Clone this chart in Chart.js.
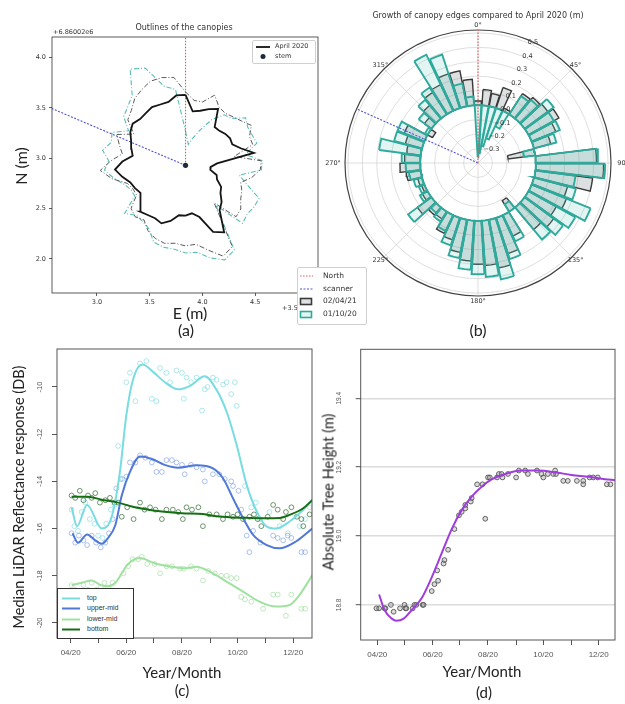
<!DOCTYPE html>
<html>
<head>
<meta charset="utf-8">
<script src="https://cdn.jsdelivr.net/npm/chart.js@4.4.1/dist/chart.umd.min.js"></script>
<style>
  body { margin: 0; background: #fff; }
  #fig { position: relative; width: 625px; height: 704px; overflow: hidden; background: #fff; }
  canvas { position: absolute; }
  .lbl { position: absolute; font-family: Lato, "Open Sans", sans-serif; color: #222; white-space: nowrap; transform: translate(-50%, -50%); }
  .rot { transform: translate(-50%, -50%) rotate(-90deg); }
  .mpl { position: absolute; font-family: "DejaVu Sans", sans-serif; color: #333; white-space: nowrap; }
  .rtxt { position: absolute; font-family: "Liberation Sans", sans-serif; color: #333; white-space: nowrap; font-size: 7px; }
  .box { position: absolute; background: #fff; }
  svg { position: absolute; overflow: visible; }
</style>
</head>
<body>
<div id="fig">
  <canvas id="canopy" width="322" height="320" style="left:0;top:0"></canvas>
  <canvas id="rose" width="335" height="330" style="left:290px;top:0"></canvas>
  <canvas id="reflect" width="322" height="340" style="left:0;top:340px"></canvas>
  <canvas id="height" width="303" height="340" style="left:322px;top:340px"></canvas>

  <!-- panel (a) text -->
  <div class="mpl" style="left:184px;top:27px;font-size:8px;transform:translate(-50%,-50%)">Outlines of the canopies</div>
  <div class="mpl" style="left:53px;top:28px;font-size:6.5px">+6.86002e6</div>
  <div class="mpl" style="left:282px;top:304px;font-size:6.5px">+3.5</div>
  <div class="lbl rot" style="left:20px;top:166px;font-size:16px">N (m)</div>
  <div class="lbl" style="left:190px;top:312px;font-size:16px">E (m)</div>
  <div class="lbl" style="left:186px;top:329px;font-size:16px">(a)</div>
  <div class="box" style="left:252px;top:40px;width:62px;height:22px;border:1px solid #d0d0d0;border-radius:2px">
    <svg width="62" height="22" style="left:0;top:0">
      <line x1="3" y1="6" x2="17" y2="6" stroke="#111" stroke-width="1.8"/>
      <circle cx="10" cy="15.5" r="2.5" fill="#1b2b3b"/>
    </svg>
    <div class="mpl" style="left:22px;top:1px;font-size:6.5px">April 2020</div>
    <div class="mpl" style="left:22px;top:11px;font-size:6.5px">stem</div>
  </div>

  <!-- panel (b) text -->
  <div class="mpl" style="left:478px;top:15px;font-size:8px;transform:translate(-50%,-50%)">Growth of canopy edges compared to April 2020 (m)</div>
  <div class="lbl" style="left:478px;top:329px;font-size:16px">(b)</div>
  <div class="box" style="left:297px;top:267px;width:68px;height:56px;border:1px solid #d0d0d0;border-radius:2px">
    <svg width="68" height="56" style="left:0;top:0">
      <line x1="2" y1="8" x2="15" y2="8" stroke="#e05a5a" stroke-width="1.2" stroke-dasharray="1.5 1.5"/>
      <line x1="2" y1="21" x2="15" y2="21" stroke="#5050d8" stroke-width="1.2" stroke-dasharray="2 1.5"/>
      <rect x="2.5" y="30.5" width="11" height="6" fill="#dde3e3" stroke="#3a3a3a" stroke-width="1.6"/>
      <rect x="2.5" y="43.5" width="11" height="6" fill="#e3f5f3" stroke="#2eaa9c" stroke-width="1.6"/>
    </svg>
    <div class="mpl" style="left:25px;top:3px;font-size:7.5px">North</div>
    <div class="mpl" style="left:25px;top:16px;font-size:7.5px">scanner</div>
    <div class="mpl" style="left:25px;top:28px;font-size:7.5px">02/04/21</div>
    <div class="mpl" style="left:25px;top:41px;font-size:7.5px">01/10/20</div>
  </div>

  <!-- panel (c) text -->
  <div class="lbl rot" style="left:18px;top:497px;font-size:14.5px">Median LiDAR Reflectance response (DB)</div>
  <div class="lbl" style="left:182px;top:672px;font-size:15px">Year/Month</div>
  <div class="lbl" style="left:182px;top:690px;font-size:15px">(c)</div>
  <div class="box" style="left:57px;top:588px;width:75px;height:49px;border:1px solid #333">
    <svg width="75" height="49" style="left:0;top:0">
      <line x1="4" y1="9.5" x2="22" y2="9.5" stroke="#78dce1" stroke-width="2"/>
      <line x1="4" y1="19.5" x2="22" y2="19.5" stroke="#5078d7" stroke-width="2"/>
      <line x1="4" y1="30.5" x2="22" y2="30.5" stroke="#a0e1a0" stroke-width="2"/>
      <line x1="4" y1="40.5" x2="22" y2="40.5" stroke="#146e14" stroke-width="2"/>
    </svg>
    <div class="rtxt" style="left:29px;top:5px">top</div>
    <div class="rtxt" style="left:29px;top:15px">upper-mid</div>
    <div class="rtxt" style="left:29px;top:26px">lower-mid</div>
    <div class="rtxt" style="left:29px;top:36px">bottom</div>
  </div>

  <!-- panel (d) text -->
  <div class="lbl rot" style="left:328px;top:492px;font-size:14.5px">Absolute Tree Height (m)</div>
  <div class="lbl" style="left:482px;top:671px;font-size:15px">Year/Month</div>
  <div class="lbl" style="left:484px;top:692px;font-size:15px">(d)</div>
</div>

<script>
// ---- canopy outlines / edge growth, 50 bearing bins (7.2 deg apart, clockwise from north)
const binStep = 7.2;
const aprilRadius = [0.70, 0.54, 0.56, 0.60, 0.64, 0.47, 0.47, 0.49, 0.50, 0.49,
                     0.55, 0.66, 0.30, 0.24, 0.24, 0.31, 0.33, 0.40, 0.43, 0.50,
                     0.55, 0.76, 0.71, 0.53, 0.48, 0.50, 0.50, 0.57, 0.62, 0.60,
                     0.61, 0.63, 0.55, 0.51, 0.53, 0.55, 0.61, 0.67, 0.60, 0.51,
                     0.54, 0.57, 0.62, 0.65, 0.63, 0.64, 0.66, 0.65, 0.65, 0.70];
const growthOct20 = [-0.36, -0.33, -0.28, -0.22, -0.12, 0.15, 0.17, 0.25, 0.20, 0.21,
                      0.16, -0.08, 0.43, 0.48, 0.28, 0.30, 0.44, 0.37, 0.33, 0.29,
                     -0.06, 0.20, 0.30, 0.42, 0.39, 0.37, 0.34, 0.27, 0.20, 0.12,
                      0.08, 0.05, 0.20, 0.06, 0.04, 0.06, 0.08, 0.10, 0.13, 0.29,
                      0.20, 0.20, 0.02, 0.11, 0.17, 0.22, 0.43, 0.39, 0.16, 0.06];
const growthApr21 = [0.03, 0.11, 0.09, 0.15, 0.02, 0.17, 0.19, 0.20, 0.24, 0.18,
                     0.12, -0.19, 0.42, 0.47, 0.40, 0.24, 0.26, 0.22, 0.25, 0.20,
                    -0.09, 0.16, 0.26, 0.34, 0.31, 0.30, 0.28, 0.23, 0.16, 0.14,
                     0.06, 0.07, 0.12, 0.04, 0.02, 0.03, 0.10, 0.14, 0.11, 0.10,
                     0.12, 0.15, -0.04, 0.06, 0.12, 0.18, 0.20, 0.25, 0.25, 0.18];
const stemE = 3.84, stemN = 2.93;
const scannerBearing = 294;
const eastTicks = [3.0, 3.5, 4.0, 4.5, 5.0];
const northTicks = [2.0, 2.5, 3.0, 3.5, 4.0];
const rMin = -0.4, rMax = 0.52;
const ringValues = [-0.3, -0.2, -0.1, 0.0, 0.1, 0.2, 0.3, 0.4, 0.5];
const compassLabels = ['0°', '45°', '90°', '135°', '180°', '225°', '270°', '315°'];

// ---- reflectance per layer (day of year 2020)
const monthTicks = [92, 122, 153, 183, 214, 245, 275, 306, 336];
const monthLabels = {92: '04/20', 153: '06/20', 214: '08/20', 275: '10/20', 336: '12/20'};
const dbTicks = [-20, -18, -16, -14, -12, -10];

const topPts = [[93,-15.2],[96,-15.9],[100,-16.1],[104,-15.3],[108,-14.9],[113,-15.6],[118,-15.8],[122,-16.3],[127,-16.4],[131,-15.8],
  [136,-15.2],[140,-15.0],[144,-12.5],[149,-13.9],[153,-9.8],[157,-9.4],[163,-10.6],[168,-9.0],[175,-8.9],[181,-10.5],
  [186,-10.6],[190,-9.2],[197,-9.4],[201,-9.8],[208,-9.3],[214,-9.4],[216,-10.5],[219,-9.6],[224,-9.8],[230,-9.6],
  [236,-11.0],[239,-10.1],[242,-10.0],[248,-9.6],[252,-9.7],[259,-9.9],[263,-9.8],[268,-10.3],[272,-9.8],[274,-10.8],
  [283,-14.2],[290,-15.1],[295,-14.9],[299,-15.6],[310,-15.3],[321,-15.9],[330,-16.2],[343,-15.9],[349,-15.6],[354,-15.1]];
const topFit = [[93,-15.1],[99,-15.9],[110,-15.0],[126,-16.0],[137,-15.5],[146,-13.6],[153,-11.2],[161,-9.6],[171,-9.05],[182,-9.35],
  [197,-9.85],[210,-10.1],[223,-9.95],[239,-9.55],[251,-10.06],[263,-11.05],[274,-12.46],[285,-14.15],[296,-15.28],[307,-15.92],
  [317,-16.0],[332,-15.7],[347,-15.2],[357,-14.8]];

const upperPts = [[93,-16.2],[97,-16.6],[101,-16.3],[106,-16.5],[110,-16.7],[115,-16.3],[120,-16.6],[125,-16.8],[130,-16.6],[134,-16.2],
  [138,-15.6],[142,-14.3],[147,-13.9],[153,-13.8],[157,-13.2],[163,-13.2],[168,-12.9],[174,-13.0],[181,-13.2],[186,-13.6],
  [192,-13.6],[197,-13.1],[203,-13.1],[208,-13.2],[214,-13.3],[217,-13.7],[224,-13.3],[230,-13.4],[237,-13.5],[239,-14.0],
  [248,-13.7],[255,-13.7],[261,-13.9],[268,-14.0],[270,-14.2],[276,-14.4],[279,-15.2],[285,-16.3],[288,-17.0],[292,-16.1],
  [300,-16.6],[314,-16.3],[319,-16.4],[325,-16.5],[330,-16.3],[334,-16.4],[345,-17.0],[349,-17.0]];
const upperFit = [[94,-16.2],[100,-16.6],[110,-16.25],[119,-16.5],[126,-16.65],[133,-16.4],[141,-15.85],[148,-14.6],[157,-13.6],[168,-12.95],
  [181,-13.05],[195,-13.3],[210,-13.42],[230,-13.32],[248,-13.45],[259,-13.87],[270,-14.72],[281,-15.56],[292,-16.27],[307,-16.7],
  [321,-16.84],[339,-16.55],[357,-16.0]];

const lowerPts = [[93,-18.4],[97,-18.6],[101,-18.9],[106,-18.4],[111,-18.6],[115,-18.3],[120,-18.6],[125,-18.5],[129,-18.3],[133,-18.5],
  [138,-18.3],[150,-17.9],[155,-17.6],[160,-17.3],[166,-17.3],[170,-17.2],[176,-17.5],[184,-17.5],[190,-17.9],[197,-17.6],
  [203,-17.6],[212,-17.7],[216,-17.7],[224,-17.6],[230,-17.7],[237,-18.2],[243,-17.8],[250,-17.9],[257,-18.0],[263,-18.0],
  [268,-18.1],[274,-18.1],[279,-18.9],[283,-19.0],[290,-19.1],[303,-19.4],[314,-18.8],[319,-18.8],[328,-19.7],[334,-18.8],
  [345,-19.4],[349,-19.4]];
const lowerFit = [[93,-18.4],[104,-18.3],[115,-18.2],[125,-18.4],[133,-18.45],[141,-18.3],[155,-17.5],[168,-17.25],[184,-17.47],[203,-17.62],
  [217,-17.68],[230,-17.62],[244,-17.82],[263,-18.25],[281,-18.67],[299,-19.1],[317,-19.31],[332,-19.24],[343,-18.81],[357,-17.97]];

const bottomPts = [[93,-14.6],[97,-14.7],[102,-14.4],[106,-14.8],[111,-14.6],[115,-14.7],[119,-14.5],[124,-14.9],[130,-14.8],[135,-14.7],
  [140,-14.9],[144,-14.9],[148,-15.5],[154,-15.1],[161,-15.6],[168,-14.9],[173,-15.2],[179,-15.1],[185,-15.2],[192,-15.6],
  [197,-15.2],[204,-15.2],[210,-15.3],[215,-15.6],[219,-15.1],[225,-15.2],[232,-15.1],[237,-15.9],[244,-15.4],[252,-15.4],
  [259,-15.6],[264,-15.4],[270,-15.5],[275,-15.4],[281,-15.6],[288,-15.5],[293,-15.4],[297,-15.6],[301,-15.9],[308,-15.5],
  [314,-15.0],[319,-15.2],[325,-15.6],[328,-15.3],[334,-15.1],[340,-15.5],[345,-15.6],[347,-15.9],[354,-15.4]];
const bottomFit = [[93,-14.65],[111,-14.65],[126,-14.78],[142,-14.88],[159,-15.07],[177,-15.2],[192,-15.28],[214,-15.35],[237,-15.38],[252,-15.48],
  [270,-15.53],[288,-15.55],[306,-15.56],[321,-15.55],[332,-15.42],[347,-15.14],[357,-14.79]];

// ---- absolute tree height
const heightTicks = [18.8, 19.0, 19.2, 19.4];
const heightPts = [[91,18.79],[94,18.79],[100,18.79],[101,18.79],[107,18.80],[110,18.78],[117,18.79],[122,18.80],[123,18.79],[124,18.79],
  [131,18.79],[133,18.80],[135,18.80],[142,18.80],[143,18.80],[152,18.84],[155,18.86],[158,18.90],[159,18.87],[165,18.92],
  [166,18.93],[170,18.96],[177,19.02],[182,19.06],[185,19.07],[189,19.08],[189,19.09],[195,19.10],[196,19.11],[202,19.15],
  [208,19.15],[211,19.05],[214,19.17],[216,19.17],[224,19.17],[226,19.18],[229,19.18],[230,19.17],[236,19.18],[245,19.17],
  [248,19.19],[255,19.19],[258,19.18],[268,19.19],[273,19.18],[275,19.17],[280,19.18],[286,19.18],[288,19.19],[289,19.18],
  [297,19.16],[302,19.16],[312,19.16],[319,19.16],[319,19.15],[326,19.17],[330,19.17],[335,19.17],[345,19.15],[349,19.15]];
const heightFit = [[94,18.83],[100,18.785],[108,18.76],[113,18.754],[121,18.76],[130,18.785],[141,18.82],[152,18.88],[163,18.95],[174,19.02],
  [185,19.075],[196,19.114],[207,19.143],[218,19.164],[233,19.18],[251,19.19],[269,19.19],[288,19.185],[306,19.177],[325,19.172],
  [343,19.165],[354,19.162]];

// ---------------------------------------------------------------------------
const deg = Math.PI / 180;
const xy = pairs => pairs.map(p => ({x: p[0], y: p[1]}));
const polar = (bearing, r) => ({x: r * Math.sin(bearing * deg), y: r * Math.cos(bearing * deg)});

function outline(radii) {
  const pts = radii.map((r, k) => {
    const p = polar(k * binStep, r);
    return {x: stemE + p.x, y: stemN + p.y};
  });
  pts.push(pts[0]);
  return pts;
}

// one rose bar, from the zero ring out (or in) to the value
function wedge(k, value) {
  const c = k * binStep, h = 3.3;
  const r0 = -rMin, r1 = value - rMin;
  const pts = [c - h, c, c + h].map(b => polar(b, r1))
    .concat([c + h, c, c - h].map(b => polar(b, r0)));
  pts.push(pts[0]);
  return pts;
}

const frame = {
  id: 'frame',
  afterDatasetsDraw(chart, args, opts) {
    const {ctx, chartArea: a} = chart;
    ctx.save();
    ctx.strokeStyle = opts.color;
    ctx.lineWidth = opts.width;
    ctx.strokeRect(a.left, a.top, a.right - a.left, a.bottom - a.top);
    ctx.restore();
  }
};

// R draws the y labels parallel to the axis
const sideLabels = {
  id: 'sideLabels',
  afterDraw(chart, args, opts) {
    const {ctx} = chart, s = chart.scales.y;
    ctx.save();
    ctx.font = opts.size + 'px "Liberation Sans"';
    ctx.fillStyle = '#555';
    ctx.textAlign = 'center';
    ctx.textBaseline = 'middle';
    s.ticks.forEach(t => {
      ctx.save();
      ctx.translate(chart.chartArea.left - opts.gap, s.getPixelForValue(t.value));
      ctx.rotate(-Math.PI / 2);
      ctx.fillText(opts.fmt(t.value), 0, 0);
      ctx.restore();
    });
    ctx.restore();
  }
};

const polarGrid = {
  id: 'polarGrid',
  beforeDatasetsDraw(chart) {
    const {ctx, scales: {x, y}} = chart;
    const cx = x.getPixelForValue(0), cy = y.getPixelForValue(0);
    const rad = r => x.getPixelForValue(r) - cx;
    const rOut = rad(rMax - rMin);
    ctx.save();
    ctx.strokeStyle = '#d6d6d6';
    ctx.lineWidth = 0.8;
    ringValues.forEach(v => {
      ctx.beginPath(); ctx.arc(cx, cy, rad(v - rMin), 0, 2 * Math.PI); ctx.stroke();
    });
    for (let b = 0; b < 360; b += 45) {
      ctx.beginPath();
      ctx.moveTo(cx, cy);
      ctx.lineTo(cx + rOut * Math.sin(b * deg), cy - rOut * Math.cos(b * deg));
      ctx.stroke();
    }
    ctx.strokeStyle = '#444';
    ctx.lineWidth = 1.2;
    ctx.beginPath(); ctx.arc(cx, cy, rOut, 0, 2 * Math.PI); ctx.stroke();
    ctx.fillStyle = '#333';
    ctx.font = '6.5px "DejaVu Sans"';
    ctx.textAlign = 'center';
    ctx.textBaseline = 'middle';
    compassLabels.forEach((t, i) => {
      const rr = rOut + (i % 4 === 2 ? 12 : 5);
      ctx.fillText(t, cx + rr * Math.sin(i * 45 * deg), cy - rr * Math.cos(i * 45 * deg));
    });
    ctx.restore();
  },
  afterDatasetsDraw(chart) {
    const {ctx, scales: {x, y}} = chart;
    const cx = x.getPixelForValue(0), cy = y.getPixelForValue(0);
    ctx.save();
    ctx.fillStyle = '#333';
    ctx.font = '6.5px "DejaVu Sans"';
    ctx.textAlign = 'left';
    ctx.textBaseline = 'middle';
    ringValues.forEach(v => {
      const rr = x.getPixelForValue(v - rMin) - cx;
      const txt = (v < 0 ? '\u2212' : '') + Math.abs(v).toFixed(1);
      ctx.fillText(txt, cx + rr * Math.sin(22.5 * deg), cy - rr * Math.cos(22.5 * deg));
    });
    ctx.restore();
  }
};

const base = {
  responsive: false,
  animation: false,
  events: [],
  plugins: {legend: {display: false}, tooltip: {enabled: false}}
};

// ---- (a) canopy outlines
new Chart(document.getElementById('canopy'), {
  type: 'line',
  data: {
    datasets: [
      {data: outline(aprilRadius), borderColor: '#151515', borderWidth: 1.8, pointRadius: 0, tension: 0, order: 0},
      {data: [{x: stemE, y: stemN}], showLine: false, pointRadius: 2.6, pointBackgroundColor: '#1b2b3b', pointBorderWidth: 0, order: 0},
      {data: [{x: stemE, y: stemN}, {x: stemE, y: 4.6}], borderColor: '#e05a5a', borderWidth: 1.1, borderDash: [1.5, 1.5], pointRadius: 0, order: 1},
      {data: [{x: stemE, y: stemN}, {x: stemE + polar(scannerBearing, 2).x, y: stemN + polar(scannerBearing, 2).y}],
        borderColor: '#5050d8', borderWidth: 1.1, borderDash: [2, 1.5], pointRadius: 0, order: 1},
      {data: outline(aprilRadius.map((r, k) => r + growthApr21[k])), borderColor: '#5a5a5a', borderWidth: 1,
        borderDash: [5, 2, 1, 2], pointRadius: 0, tension: 0, order: 2},
      {data: outline(aprilRadius.map((r, k) => r + growthOct20[k])), borderColor: '#5cbdb6', borderWidth: 1.1,
        borderDash: [5, 2, 1, 2], pointRadius: 0, tension: 0, order: 3}
    ]
  },
  options: {
    ...base,
    layout: {padding: {left: 22, top: 37, right: 4, bottom: 0}},
    scales: {
      x: {
        type: 'linear', min: 2.574, max: 5.096,
        afterBuildTicks: s => { s.ticks = eastTicks.map(v => ({value: v})); },
        afterFit: s => { s.height = 27; },
        ticks: {font: {family: 'DejaVu Sans', size: 6.5}, color: '#333', padding: 2, autoSkip: false, maxRotation: 0,
          callback: v => v.toFixed(1)},
        grid: {drawOnChartArea: false, tickLength: 3, tickColor: '#333', tickWidth: 0.8},
        border: {display: false}
      },
      y: {
        type: 'linear', min: 1.662, max: 4.205,
        afterBuildTicks: s => { s.ticks = northTicks.map(v => ({value: v})); },
        afterFit: s => { s.width = 30; },
        ticks: {font: {family: 'DejaVu Sans', size: 6.5}, color: '#333', padding: 3, callback: v => v.toFixed(1)},
        grid: {drawOnChartArea: false, tickLength: 3, tickColor: '#333', tickWidth: 0.8},
        border: {display: false}
      }
    },
    plugins: {...base.plugins, frame: {color: '#333', width: 0.8}}
  },
  plugins: [frame]
});

// ---- (b) growth rose
const roseSets = [];
growthOct20.forEach((v, k) => roseSets.push({
  data: wedge(k, v), fill: 'shape', backgroundColor: 'rgba(110,205,195,0.2)', borderColor: '#2eaa9c',
  borderWidth: 1.9, pointRadius: 0, tension: 0, order: 1
}));
growthApr21.forEach((v, k) => roseSets.push({
  data: wedge(k, v), fill: 'shape', backgroundColor: 'rgba(120,135,135,0.26)', borderColor: '#3a3a3a',
  borderWidth: 1.4, pointRadius: 0, tension: 0, order: 2
}));
roseSets.push({data: [polar(0, 0), polar(0, rMax - rMin)], borderColor: '#e05a5a', borderWidth: 1.1,
  borderDash: [1.5, 1.5], pointRadius: 0, order: 0});
roseSets.push({data: [polar(scannerBearing, 0), polar(scannerBearing, rMax - rMin)], borderColor: '#5050d8', borderWidth: 1.1,
  borderDash: [2, 1.5], pointRadius: 0, order: 0});

new Chart(document.getElementById('rose'), {
  type: 'line',
  data: {datasets: roseSets},
  options: {
    ...base,
    layout: {padding: {left: 55, top: 30, right: 14, bottom: 34}},
    scales: {
      x: {type: 'linear', min: -(rMax - rMin), max: rMax - rMin, display: false},
      y: {type: 'linear', min: -(rMax - rMin), max: rMax - rMin, display: false}
    }
  },
  plugins: [polarGrid]
});

// ---- shared month axis for (c) and (d)
function monthAxis(min, max) {
  return {
    type: 'linear', min, max,
    afterBuildTicks: s => { s.ticks = monthTicks.map(v => ({value: v})); },
    afterFit: s => { s.height = 30; },
    ticks: {font: {family: 'Liberation Sans', size: 8}, color: '#555', padding: 5, autoSkip: false, maxRotation: 0,
      callback: v => monthLabels[v] || ''},
    grid: {drawOnChartArea: false, tickLength: 5, tickColor: '#555', tickWidth: 1},
    border: {display: false}
  };
}

const pointSet = (pairs, color, order) => ({data: xy(pairs), showLine: false, pointRadius: 2.4, pointBorderWidth: 0.9,
  pointBorderColor: color, pointBackgroundColor: 'rgba(0,0,0,0)', order});
const fitSet = (pairs, color, order) => ({data: xy(pairs), borderColor: color, borderWidth: 2, pointRadius: 0,
  cubicInterpolationMode: 'monotone', order});

// ---- (c) reflectance
new Chart(document.getElementById('reflect'), {
  type: 'line',
  data: {
    datasets: [
      fitSet(bottomFit, '#146e14', 0),
      fitSet(lowerFit, '#a0e1a0', 1),
      fitSet(upperFit, '#5078d7', 2),
      fitSet(topFit, '#78dce1', 3),
      pointSet(bottomPts, 'rgba(40,100,40,0.75)', 4),
      pointSet(lowerPts, 'rgba(150,215,150,0.65)', 5),
      pointSet(upperPts, 'rgba(90,130,220,0.55)', 6),
      pointSet(topPts, 'rgba(120,215,222,0.65)', 7)
    ]
  },
  options: {
    ...base,
    layout: {padding: {left: 37, top: 9, right: 10, bottom: 12}},
    scales: {
      x: monthAxis(77, 356.6),
      y: {
        type: 'linear', min: -20.64, max: -8.39,
        afterBuildTicks: s => { s.ticks = dbTicks.map(v => ({value: v})); },
        afterFit: s => { s.width = 20; },
        ticks: {display: false},
        grid: {drawOnChartArea: false, tickLength: 5, tickColor: '#555', tickWidth: 1},
        border: {display: false}
      }
    },
    plugins: {...base.plugins, frame: {color: '#555', width: 1},
      sideLabels: {size: 7.5, gap: 17, fmt: v => String(v)}}
  },
  plugins: [frame, sideLabels]
});

// ---- (d) tree height
new Chart(document.getElementById('height'), {
  type: 'line',
  data: {
    datasets: [
      fitSet(heightFit, '#a03cdc', 0),
      {data: xy(heightPts), showLine: false, pointRadius: 2.4, pointBorderWidth: 0.9, pointBorderColor: '#555',
        pointBackgroundColor: 'rgba(150,150,150,0.35)', order: 1}
    ]
  },
  options: {
    ...base,
    layout: {padding: {left: 20.7, top: 9.3, right: 10, bottom: 10}},
    scales: {
      x: monthAxis(73.7, 354),
      y: {
        type: 'linear', min: 18.698, max: 19.542,
        afterBuildTicks: s => { s.ticks = heightTicks.map(v => ({value: v})); },
        afterFit: s => { s.width = 18; },
        ticks: {display: false},
        grid: {drawOnChartArea: true, color: '#dcdcdc', lineWidth: 1.4, tickLength: 5, tickColor: '#555', tickWidth: 1},
        border: {display: false}
      }
    },
    plugins: {...base.plugins, frame: {color: '#555', width: 1},
      sideLabels: {size: 6.5, gap: 21, fmt: v => v.toFixed(1)}}
  },
  plugins: [frame, sideLabels]
});
</script>
</body>
</html>
